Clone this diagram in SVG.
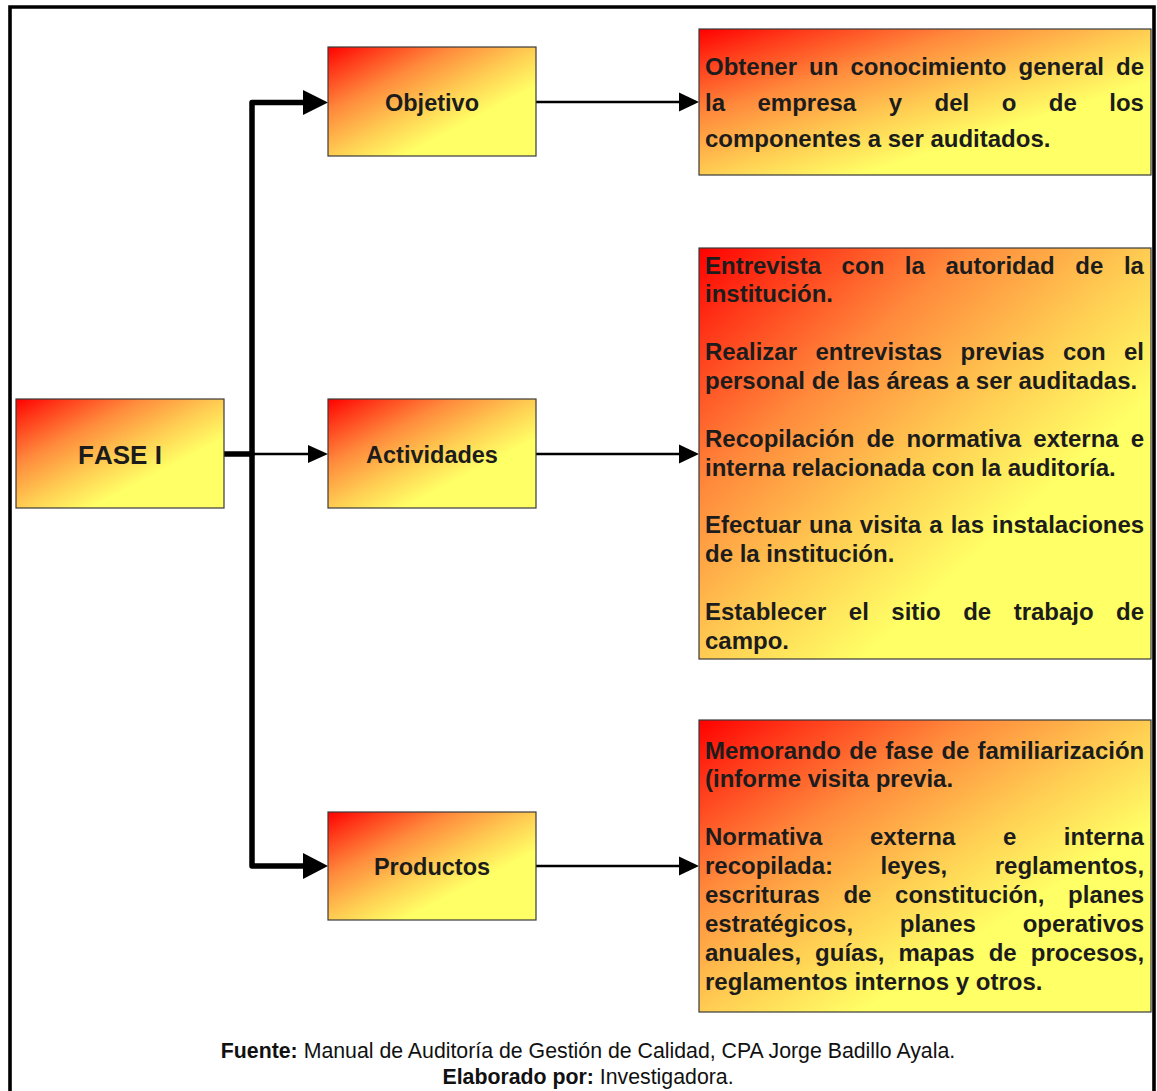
<svg xmlns="http://www.w3.org/2000/svg" width="1157" height="1091" viewBox="0 0 1157 1091">
  <defs>
    <linearGradient id="fire" x1="0" y1="0" x2="1" y2="1">
      <stop offset="0" stop-color="#ff0000"/>
      <stop offset="0.12" stop-color="#ff3a1a"/>
      <stop offset="0.3" stop-color="#ff8a3c"/>
      <stop offset="0.5" stop-color="#ffcc52"/>
      <stop offset="0.68" stop-color="#ffff66"/>
      <stop offset="1" stop-color="#ffff66"/>
    </linearGradient>
    <style>
      .box { fill: url(#fire); stroke: #3a3a3a; stroke-width: 1.2; }
      .label { font-family: "Liberation Sans", Arial, sans-serif; font-weight: bold; font-size: 23.5px; fill: #1c1c1c; text-anchor: middle; font-kerning: none; }
      .body { font-family: "Liberation Sans", Arial, sans-serif; font-weight: bold; font-size: 24px; fill: #1c1c1c; font-kerning: none; }
      .thick { fill: none; stroke: #000; stroke-width: 5.5; stroke-linejoin: round; stroke-linecap: round; }
      .thin { fill: none; stroke: #000; stroke-width: 2.6; }
      .head { fill: #000; }
      .foot { font-family: "Liberation Sans", Arial, sans-serif; font-size: 21.3px; fill: #111; text-anchor: middle; }
    </style>
  </defs>

  <rect width="1157" height="1091" fill="#fff"/>

  <!-- frame open at the bottom -->
  <path d="M10,1091 V7 H1154 V1091" fill="none" stroke="#000" stroke-width="3.6"/>

  <!-- connectors -->
  <g id="connectors">
    <line class="thick" x1="224" y1="454" x2="252" y2="454"/>
    <path class="thick" d="M306,102.5 H252 V866 H306"/>
    <polygon class="head" points="303,90 328,102.5 303,115"/>
    <polygon class="head" points="303,853 328,866 303,879"/>
    <line class="thin" x1="252" y1="454" x2="310" y2="454"/>
    <polygon class="head" points="308,445 328,454 308,463"/>
    <line class="thin" x1="536" y1="102" x2="681" y2="102"/>
    <polygon class="head" points="679,92.5 699,102 679,111.5"/>
    <line class="thin" x1="536" y1="454" x2="681" y2="454"/>
    <polygon class="head" points="679,444.5 699,454 679,463.5"/>
    <line class="thin" x1="536" y1="866" x2="681" y2="866"/>
    <polygon class="head" points="679,856.5 699,866 679,875.5"/>
  </g>

  <g id="fase-i">
    <rect class="box" x="16" y="399" width="208" height="109"/>
    <text class="label" x="120" y="463.5" style="font-size:26px">FASE I</text>
  </g>

  <g id="objetivo">
    <rect class="box" x="328" y="47" width="208" height="109"/>
    <text class="label" x="432" y="110.5">Objetivo</text>
  </g>

  <g id="actividades">
    <rect class="box" x="328" y="399" width="208" height="109"/>
    <text class="label" x="432" y="462.5">Actividades</text>
  </g>

  <g id="productos">
    <rect class="box" x="328" y="812" width="208" height="108"/>
    <text class="label" x="432" y="874.5">Productos</text>
  </g>

  <g id="objetivo-detalle">
    <rect class="box" x="699" y="29" width="452" height="146"/>
    <text class="body" x="705" y="75" style="word-spacing:5.4px">Obtener un conocimiento general de</text>
    <text class="body" x="705" y="111" style="word-spacing:25.8px">la empresa y del o de los</text>
    <text class="body" x="705" y="147">componentes a ser auditados.</text>
  </g>

  <g id="actividades-detalle">
    <rect class="box" x="699" y="248" width="452" height="411"/>
    <text class="body" x="705" y="273.5" style="word-spacing:13.9px">Entrevista con la autoridad de la</text>
    <text class="body" x="705" y="302.4">institución.</text>
    <text class="body" x="705" y="360" style="word-spacing:11.7px">Realizar entrevistas previas con el</text>
    <text class="body" x="705" y="389">personal de las áreas a ser auditadas.</text>
    <text class="body" x="705" y="446.6" style="word-spacing:5.4px">Recopilación de normativa externa e</text>
    <text class="body" x="705" y="475.5">interna relacionada con la auditoría.</text>
    <text class="body" x="705" y="533.2" style="word-spacing:1.4px">Efectuar una visita a las instalaciones</text>
    <text class="body" x="705" y="562">de la institución.</text>
    <text class="body" x="705" y="619.7" style="word-spacing:15.8px">Establecer el sitio de trabajo de</text>
    <text class="body" x="705" y="648.6">campo.</text>
  </g>

  <g id="productos-detalle">
    <rect class="box" x="699" y="720" width="452" height="292"/>
    <text class="body" x="705" y="758.5" style="word-spacing:1.45px">Memorando de fase de familiarización</text>
    <text class="body" x="705" y="787.4">(informe visita previa.</text>
    <text class="body" x="705" y="845.1" style="word-spacing:40.9px">Normativa externa e interna</text>
    <text class="body" x="705" y="874" style="word-spacing:40.8px">recopilada: leyes, reglamentos,</text>
    <text class="body" x="705" y="902.9" style="word-spacing:17px">escrituras de constitución, planes</text>
    <text class="body" x="705" y="931.8" style="word-spacing:40.1px">estratégicos, planes operativos</text>
    <text class="body" x="705" y="960.6" style="word-spacing:7.4px">anuales, guías, mapas de procesos,</text>
    <text class="body" x="705" y="989.5">reglamentos internos y otros.</text>
  </g>

  <g id="fuente">
    <text class="foot" x="588" y="1058"><tspan font-weight="bold">Fuente:</tspan> Manual de Auditoría de Gestión de Calidad, CPA Jorge Badillo Ayala.</text>
    <text class="foot" x="588" y="1084"><tspan font-weight="bold">Elaborado por:</tspan> Investigadora.</text>
  </g>
</svg>
